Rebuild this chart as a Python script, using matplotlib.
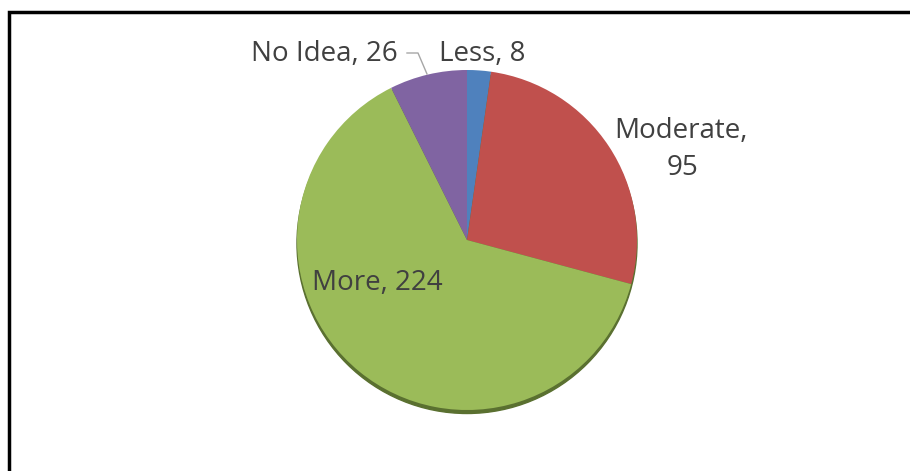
import matplotlib.pyplot as plt
from matplotlib.patches import Circle

labels = ["Less", "Moderate", "More", "No Idea"]
counts = [8, 95, 224, 26]
colors = ["#4F81BD", "#C0504D", "#9BBB59", "#8064A2"]

W, H = 910, 471
fig = plt.figure(figsize=(W / 100, H / 100), dpi=100)
ax = fig.add_axes([0, 0, 1, 1])

plt.rcParams['font.family'] = ['Open Sans', 'DejaVu Sans']

cx, cy, r = 467, H - 240, 170

# dark rim under the pie
ax.add_patch(Circle((cx, cy - 3.5), r, color="#5A7030", zorder=1))

ax.pie(counts, colors=colors, startangle=90, counterclock=False,
       center=(cx, cy), radius=r, frame=True,
       wedgeprops=dict(linewidth=0, zorder=2))
ax.set_xlim(0, W)
ax.set_ylim(0, H)
ax.set_aspect("equal")
ax.axis("off")

txt = dict(fontsize=20, color="#404040", va="baseline", zorder=5)
ax.text(439, H - 61, f"{labels[0]}, {counts[0]}", ha="left", **txt)
ax.text(398, H - 61, f"{labels[3]}, {counts[3]}", ha="right", **txt)
ax.text(681, H - 138, f"{labels[1]},", ha="center", **txt)
ax.text(682, H - 175, f"{counts[1]}", ha="center", **txt)
ax.text(312, H - 290, f"{labels[2]}, {counts[2]}", ha="left", **txt)

# leader line for No Idea
ax.plot([407, 418, 427], [H - 53, H - 53, H - 74], color="#A6A6A6", lw=1, zorder=4)

# chart border (top and left visible)
ax.plot([8.5, 8.5, W + 5], [-5, H - 11.5, H - 11.5], color="black", lw=2.5,
        solid_joinstyle="miter", zorder=6)

fig.savefig("out.png", dpi=100)
